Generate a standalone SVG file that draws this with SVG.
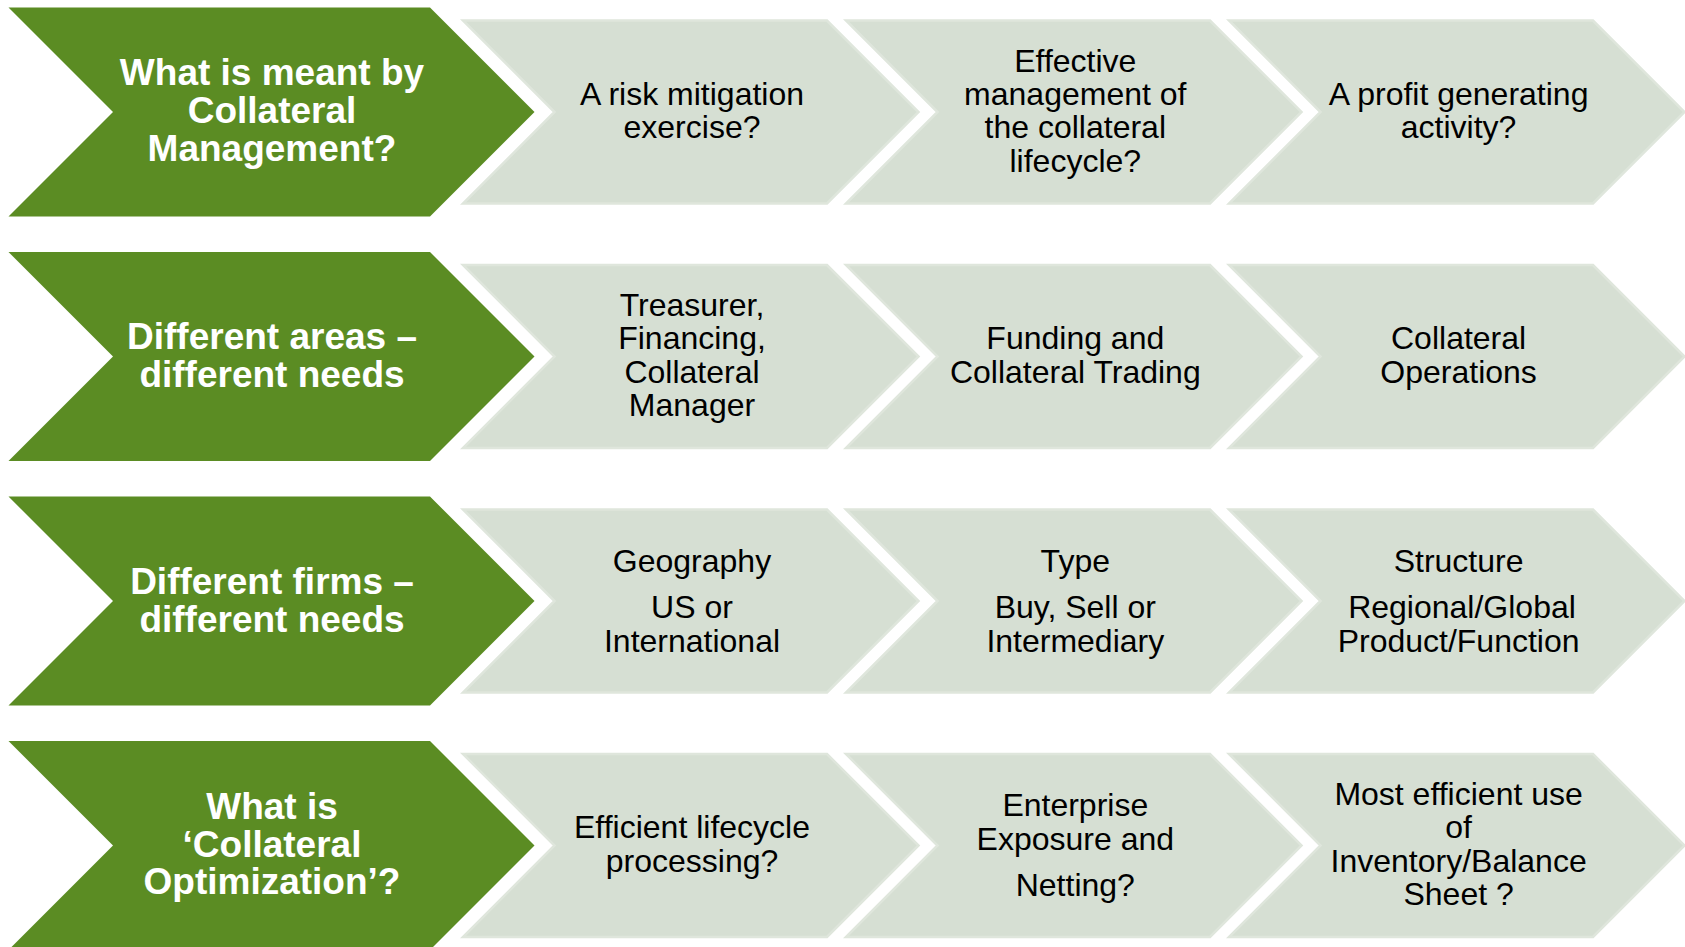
<svg xmlns="http://www.w3.org/2000/svg" width="1685" height="947" viewBox="0 0 1685 947">
<style>
.lead{fill:#5b8c23;}
.step{fill:#d6dfd3;stroke:#dfe6dc;stroke-width:2.5;stroke-linejoin:miter;}
.lt{font-family:"Liberation Sans",Arial,sans-serif;font-weight:bold;font-size:37px;fill:#ffffff;text-anchor:middle;}
.st{font-family:"Liberation Sans",Arial,sans-serif;font-size:32px;fill:#000000;text-anchor:middle;}
</style>
<defs>
<path id="leadShape" d="M8.5,7.5 L430,7.5 L534.5,112 L430,216.5 L8.5,216.5 L113,112 Z"/>
<path id="stepShape" d="M0,20.5 L364,20.5 L455.5,112 L364,203.5 L0,203.5 L91.5,112 Z"/>
</defs>
<rect width="1685" height="947" fill="#ffffff"/>
<g id="connectors"></g>

<!-- Row 1 -->
<g id="row1-lead" transform="translate(0,0)">
<use href="#leadShape" class="lead"/>
<text class="lt" x="272" y="85">What is meant by</text>
<text class="lt" x="272" y="123.3">Collateral</text>
<text class="lt" x="272" y="160.7">Management?</text>
</g>
<g id="row1-step1" transform="translate(0,0)">
<use href="#stepShape" class="step" x="463"/>
<text class="st" x="692" y="104.5">A risk mitigation</text>
<text class="st" x="692" y="138">exercise?</text>
</g>
<g id="row1-step2" transform="translate(0,0)">
<use href="#stepShape" class="step" x="846"/>
<text class="st" x="1075.3" y="71.5">Effective</text>
<text class="st" x="1075.3" y="104.5">management of</text>
<text class="st" x="1075.3" y="138">the collateral</text>
<text class="st" x="1075.3" y="171.5">lifecycle?</text>
</g>
<g id="row1-step3" transform="translate(0,0)">
<use href="#stepShape" class="step" x="1229"/>
<text class="st" x="1458.6" y="104.5">A profit generating</text>
<text class="st" x="1458.6" y="138">activity?</text>
</g>

<!-- Row 2 -->
<g id="row2-lead" transform="translate(0,244.5)">
<use href="#leadShape" class="lead"/>
<text class="lt" x="272" y="104.5">Different areas –</text>
<text class="lt" x="272" y="142.5">different needs</text>
</g>
<g id="row2-step1" transform="translate(0,244.5)">
<use href="#stepShape" class="step" x="463"/>
<text class="st" x="692" y="71.5">Treasurer,</text>
<text class="st" x="692" y="104.5">Financing,</text>
<text class="st" x="692" y="138">Collateral</text>
<text class="st" x="692" y="171.5">Manager</text>
</g>
<g id="row2-step2" transform="translate(0,244.5)">
<use href="#stepShape" class="step" x="846"/>
<text class="st" x="1075.3" y="104.5">Funding and</text>
<text class="st" x="1075.3" y="138">Collateral Trading</text>
</g>
<g id="row2-step3" transform="translate(0,244.5)">
<use href="#stepShape" class="step" x="1229"/>
<text class="st" x="1458.6" y="104.5">Collateral</text>
<text class="st" x="1458.6" y="138">Operations</text>
</g>

<!-- Row 3 -->
<g id="row3-lead" transform="translate(0,489)">
<use href="#leadShape" class="lead"/>
<text class="lt" x="272" y="104.5">Different firms –</text>
<text class="lt" x="272" y="142.5">different needs</text>
</g>
<g id="row3-step1" transform="translate(0,489)">
<use href="#stepShape" class="step" x="463"/>
<text class="st" x="692" y="82.5">Geography</text>
<text class="st" x="692" y="128.5">US or</text>
<text class="st" x="692" y="162.5">International</text>
</g>
<g id="row3-step2" transform="translate(0,489)">
<use href="#stepShape" class="step" x="846"/>
<text class="st" x="1075.3" y="82.5">Type</text>
<text class="st" x="1075.3" y="128.5">Buy, Sell or</text>
<text class="st" x="1075.3" y="162.5">Intermediary</text>
</g>
<g id="row3-step3" transform="translate(0,489)">
<use href="#stepShape" class="step" x="1229"/>
<text class="st" x="1458.6" y="82.5">Structure</text>
<text class="st" x="1462" y="128.5">Regional/Global</text>
<text class="st" x="1458.6" y="162.5">Product/Function</text>
</g>

<!-- Row 4 -->
<g id="row4-lead" transform="translate(0,733.5)">
<use href="#leadShape" class="lead"/>
<text class="lt" x="272" y="85">What is</text>
<text class="lt" x="272" y="123.3">‘Collateral</text>
<text class="lt" x="272" y="160.7">Optimization’?</text>
</g>
<g id="row4-step1" transform="translate(0,733.5)">
<use href="#stepShape" class="step" x="463"/>
<text class="st" x="692" y="104.5">Efficient lifecycle</text>
<text class="st" x="692" y="138">processing?</text>
</g>
<g id="row4-step2" transform="translate(0,733.5)">
<use href="#stepShape" class="step" x="846"/>
<text class="st" x="1075.3" y="82.5">Enterprise</text>
<text class="st" x="1075.3" y="116">Exposure and</text>
<text class="st" x="1075.3" y="162">Netting?</text>
</g>
<g id="row4-step3" transform="translate(0,733.5)">
<use href="#stepShape" class="step" x="1229"/>
<text class="st" x="1458.6" y="71.5">Most efficient use</text>
<text class="st" x="1458.6" y="104.5">of</text>
<text class="st" x="1458.6" y="138">Inventory/Balance</text>
<text class="st" x="1458.6" y="171.5">Sheet ?</text>
</g>
</svg>
